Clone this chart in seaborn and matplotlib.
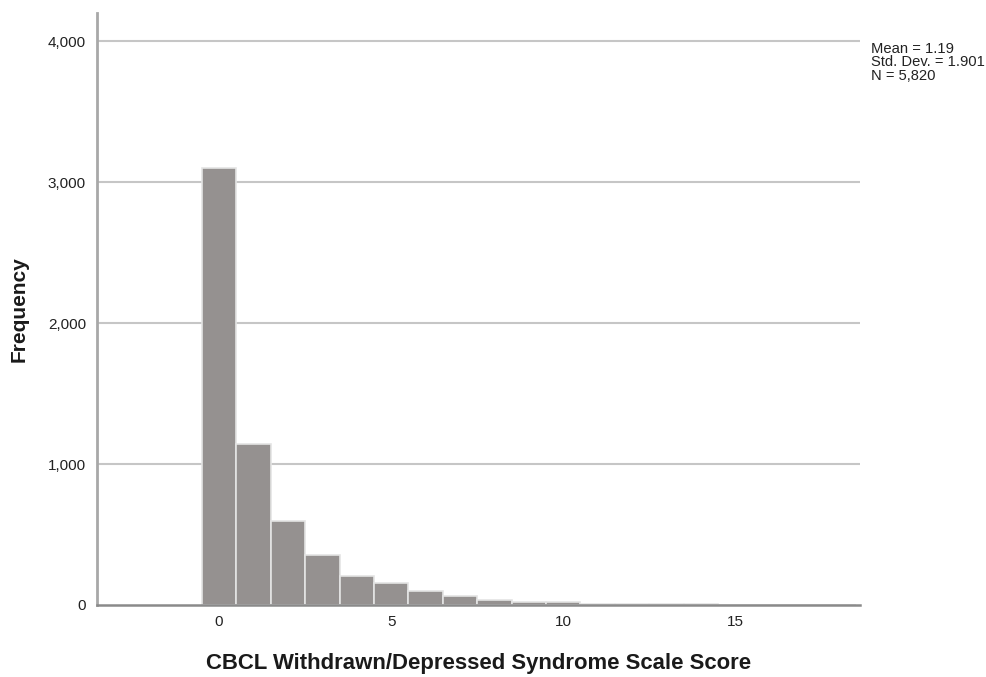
import matplotlib
matplotlib.use("Agg")
import matplotlib.pyplot as plt
import seaborn as sns
import pandas as pd
from matplotlib.ticker import FuncFormatter

# Score values (0..18) and their frequencies
scores = list(range(0, 19))
frequency = [3100, 1140, 598, 356, 209, 155, 96, 62, 34, 20, 20,
             8, 6, 5, 4, 3, 2, 2, 1]

x_ticks = [0, 5, 10, 15]
y_ticks = [0, 1000, 2000, 3000, 4000]
stats_lines = ["Mean = 1.19", "Std. Dev. = 1.901", "N = 5,820"]
x_title = "CBCL Withdrawn/Depressed Syndrome Scale Score"
y_title = "Frequency"

df = pd.DataFrame({"score": scores, "count": frequency})

sns.set_theme(style="white")
plt.rcParams["font.family"] = ["Liberation Sans", "DejaVu Sans"]

W, H = 987, 677
fig = plt.figure(figsize=(W / 100, H / 100), dpi=100)
ax = fig.add_axes([97 / W, 1 - 605 / H, (860 - 97) / W, (605 - 13) / H])

# horizontal reference lines
for t in y_ticks[1:]:
    ax.axhline(t, color="#c6c6c6", lw=1.5, zorder=0)

sns.histplot(data=df, x="score", weights="count", discrete=True,
             color="#959190", alpha=1.0, edgecolor="#e4e4e4",
             linewidth=1.2, ax=ax, zorder=2)

ax.set_xlim(-3.55, 18.63)
ax.set_ylim(0, 4200)
ax.set_xticks(x_ticks)
ax.set_yticks(y_ticks)
ax.yaxis.set_major_formatter(FuncFormatter(lambda v, p: f"{int(v):,}"))
ax.tick_params(axis="both", length=0, labelsize=11, colors="#222222")
ax.tick_params(axis="y", pad=8)
ax.tick_params(axis="x", pad=7)

for side in ["top", "right"]:
    ax.spines[side].set_visible(False)
ax.spines["left"].set_color("#a8a8a8")
ax.spines["left"].set_linewidth(2.0)
ax.spines["bottom"].set_color("#8a8a8a")
ax.spines["bottom"].set_linewidth(1.8)
ax.spines["bottom"].set_zorder(3)

ax.set_xlabel(x_title, fontsize=15.9, fontweight="bold", color="#1a1a1a")
ax.xaxis.set_label_coords(0.5, -(663 - 605) / (605 - 13), transform=ax.transAxes)
ax.xaxis.label.set_va("center")
ax.set_ylabel(y_title, fontsize=15, fontweight="bold", color="#1a1a1a")
ax.yaxis.set_label_coords(-(97 - 19) / (860 - 97), 0.5, transform=ax.transAxes)
ax.yaxis.label.set_va("center")

# summary statistics block, one line at a time
for i, line in enumerate(stats_lines):
    fig.text(871 / W, 1 - (53 + 13.4 * i) / H, line, fontsize=10.6,
             va="baseline", ha="left", color="#222222")

fig.savefig("out.png", dpi=100, facecolor="white")
